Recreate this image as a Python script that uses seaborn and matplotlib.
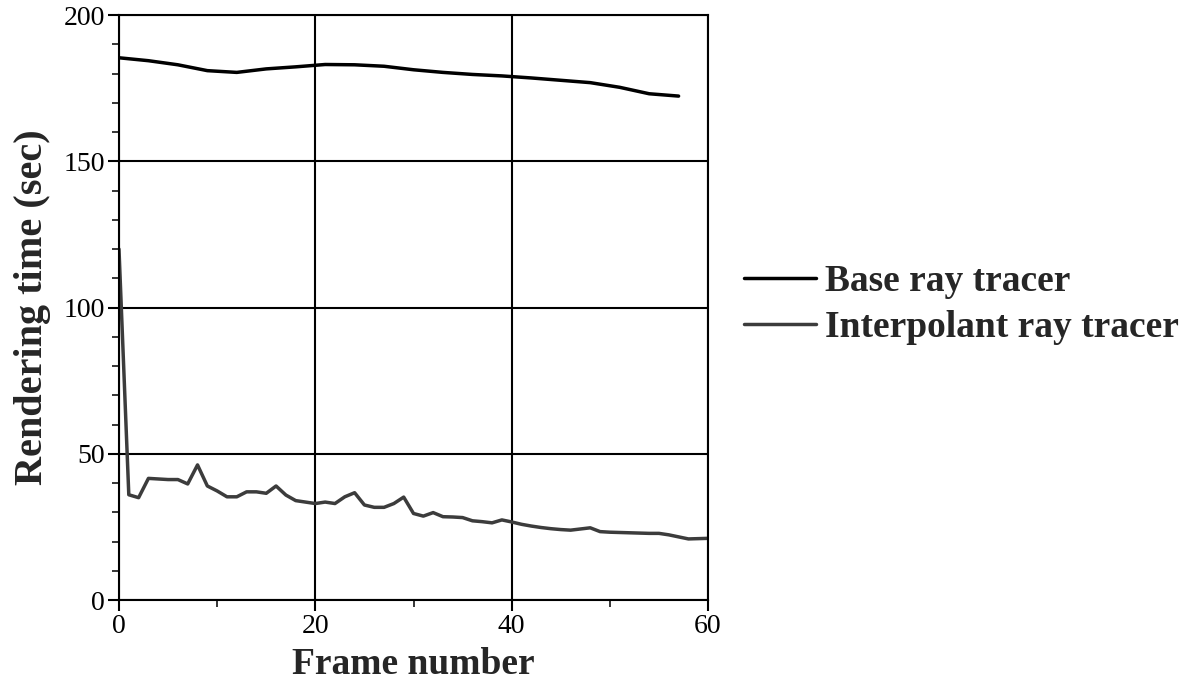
import numpy as np
import pandas as pd
import matplotlib
matplotlib.use("Agg")
import matplotlib.pyplot as plt
import seaborn as sns
from matplotlib.ticker import MultipleLocator

# frames sampled for the base ray tracer
base_frames = [0, 3, 6, 9, 12, 15, 18, 21, 24, 27, 30, 33, 36, 39, 42, 45, 48, 51, 54, 57]
base_times = [185.4, 184.4, 183.0, 181.0, 180.4, 181.6, 182.3, 183.1, 183.0, 182.5,
              181.3, 180.4, 179.7, 179.2, 178.5, 177.7, 176.9, 175.3, 173.1, 172.3]

# interpolant ray tracer, one value per frame 0..60
interp_frames = list(range(61))
interp_times = [120.0, 36.0, 35.0, 41.6, 41.4, 41.2, 41.2, 39.7, 46.2, 39.0,
                37.3, 35.3, 35.3, 37.0, 37.0, 36.5, 39.0, 35.9, 34.0, 33.5,
                33.0, 33.5, 33.0, 35.3, 36.7, 32.5, 31.7, 31.7, 33.0, 35.2,
                29.6, 28.7, 29.9, 28.5, 28.4, 28.2, 27.1, 26.8, 26.4, 27.4,
                26.7, 25.9, 25.3, 24.8, 24.4, 24.1, 23.9, 24.3, 24.7, 23.4,
                23.2, 23.1, 23.0, 22.9, 22.8, 22.8, 22.3, 21.6, 20.9, 21.0,
                21.1]

series_labels = ["Base ray tracer", "Interpolant ray tracer"]

sns.set_style("white")
plt.rcParams["font.family"] = ["Liberation Serif", "DejaVu Serif"]

fig = plt.figure(figsize=(11.91, 6.85), dpi=100)
ax = fig.add_axes([0.0999, 0.124, 0.4946, 0.854])

sns.lineplot(x=base_frames, y=base_times, ax=ax, color="black", linewidth=2.5,
             label=series_labels[0], legend=False)
sns.lineplot(x=interp_frames, y=interp_times, ax=ax, color="#3c3c3c", linewidth=2.5,
             label=series_labels[1], legend=False)

ax.set_xlim(0, 60)
ax.set_ylim(0, 200)
ax.xaxis.set_major_locator(MultipleLocator(20))
ax.xaxis.set_minor_locator(MultipleLocator(10))
ax.yaxis.set_major_locator(MultipleLocator(50))
ax.yaxis.set_minor_locator(MultipleLocator(10))

ax.grid(True, which="major", color="black", linewidth=1.5)
for spine in ax.spines.values():
    spine.set_visible(True)
    spine.set_edgecolor("black")
    spine.set_linewidth(1.5)

ax.tick_params(axis="both", which="major", direction="out", length=8, width=1.5,
               labelsize=20, pad=2, colors="black", left=True, bottom=True)
ax.tick_params(axis="both", which="minor", direction="out", length=5, width=1.3,
               left=True, bottom=True)

ax.set_xlabel("Frame number", fontsize=27, fontweight="bold", labelpad=6)
ax.set_ylabel("Rendering time (sec)", fontsize=29, fontweight="bold", labelpad=9)

handles, labels = ax.get_legend_handles_labels()
fig.legend(handles, labels, loc="center left", bbox_to_anchor=(0.625, 0.555),
           frameon=False, prop={"weight": "bold", "size": 27},
           handlelength=1.9, handletextpad=0.25, labelspacing=0.3,
           borderaxespad=0, borderpad=0)

fig.savefig("out.png", dpi=100, facecolor="white")
